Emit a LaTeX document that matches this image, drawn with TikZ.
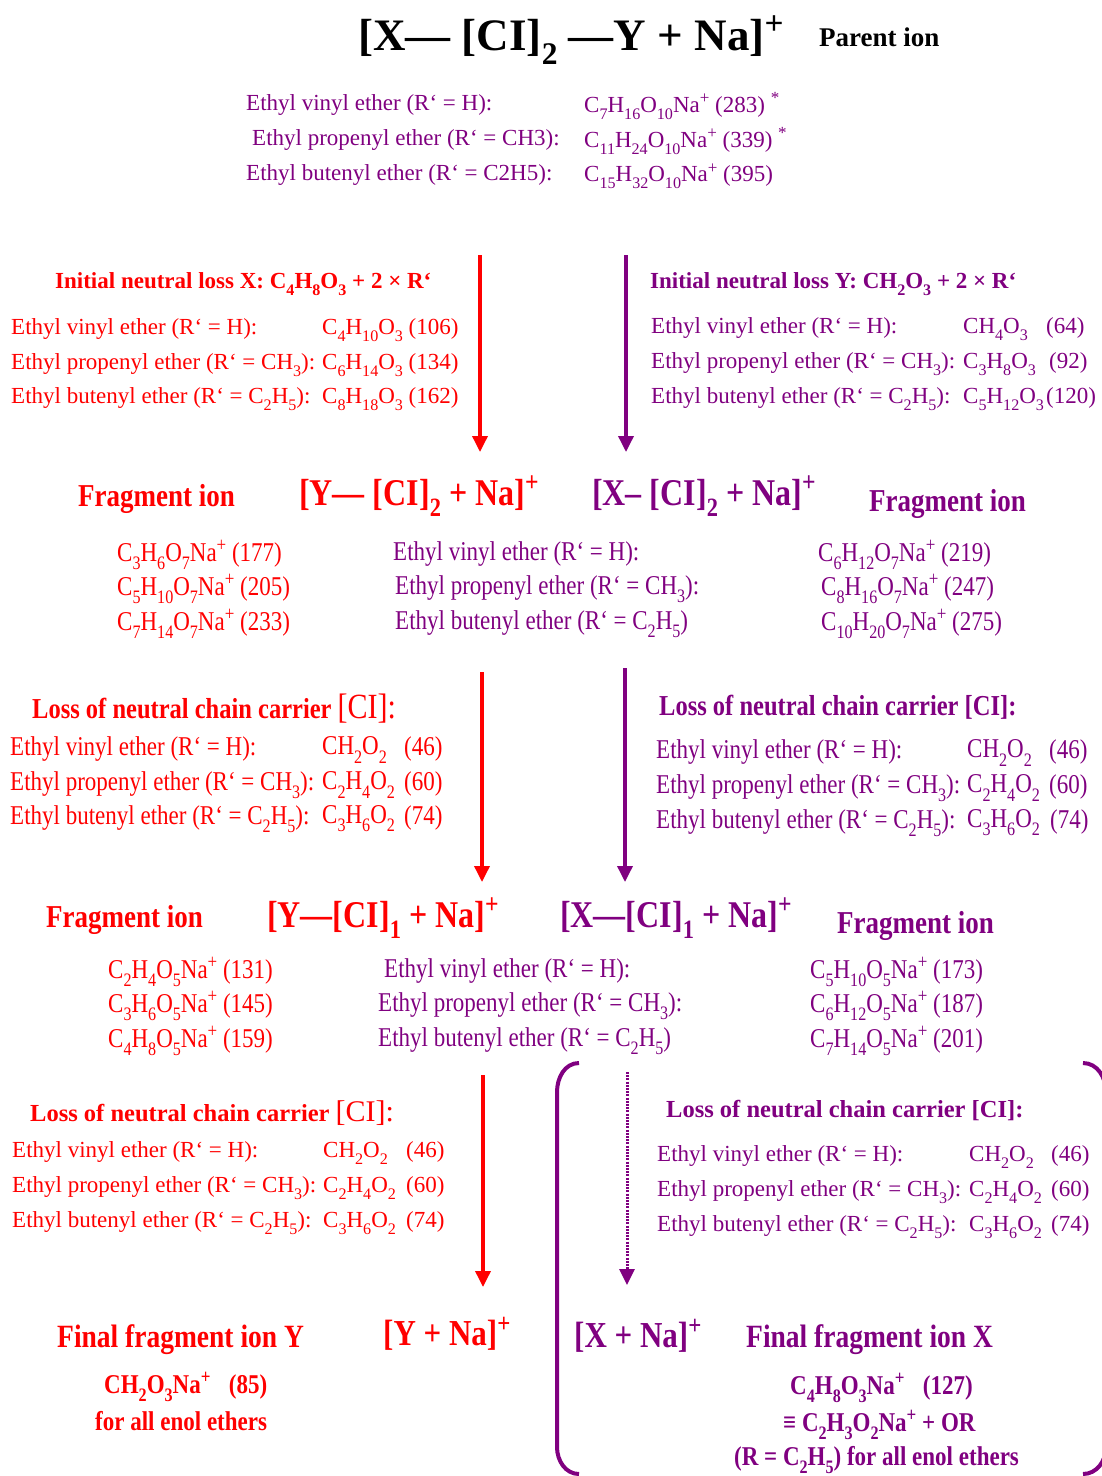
\documentclass[tikz,border=0pt]{standalone}
\usepackage{fontspec}
\setmainfont{Liberation Serif}
\usetikzlibrary{arrows.meta}
\definecolor{cred}{RGB}{255,0,0}
\definecolor{cpur}{RGB}{128,0,128}
\newcommand{\chs}[1]{\raisebox{-0.3em}{\scalebox{0.7}{#1}}}
\newcommand{\chp}[1]{\raisebox{0.36em}{\scalebox{0.74}{#1}}}
\newcommand{\tallt}[1]{\scalebox{1}[1.18]{#1}}
\newcommand{\fsz}[1]{\fontsize{#1}{#1}\selectfont}
\tikzset{
  base/.style={inner sep=0pt, anchor=west, yshift=-3pt, execute at begin node=\strut},
  nb/.style={base, font=\fsz{23}},
  hb/.style={base, font=\fsz{23}\bfseries},
  lb/.style={base, font=\fsz{24.5}\bfseries},
  fb/.style={base, font=\fsz{27}\bfseries},
  ib/.style={base, font=\fsz{32}\bfseries},
  rd/.style={text=cred},
  pu/.style={text=cpur},
  redarrow/.style={draw=cred, line width=3.5pt, -{Triangle[length=16pt,width=15pt]}},
  purarrow/.style={draw=cpur, line width=3.5pt, -{Triangle[length=16pt,width=15pt]}},
  purdotted/.style={draw=cpur, line width=3pt, dash pattern=on 2pt off 1.2pt, -{Triangle[length=16pt,width=15pt]}},
}
\begin{document}
\begin{tikzpicture}[x=1pt,y=-1pt]
\useasboundingbox (0,0) rectangle (1102,1476);

% title
\node[base, font=\fsz{45}\bfseries] (title) at (358,37) {[X— [CI]\chs{2} —Y + Na]\chp{+}};
\node[fb] (parent) at (819,38) {Parent ion};

% top list
\node[nb,pu] (t1a) at (246,103) {Ethyl vinyl ether (R‘ = H):};
\node[nb,pu] (t2a) at (252,138) {Ethyl propenyl ether (R‘ = CH3):};
\node[nb,pu] (t3a) at (246,173) {Ethyl butenyl ether (R‘ = C2H5):};
\node[nb,pu] (t1b) at (584,103) {C\chs{7}H\chs{16}O\chs{10}Na\chp{+} (283) \chp{*}};
\node[nb,pu] (t2b) at (584,138) {C\chs{11}H\chs{24}O\chs{10}Na\chp{+} (339) \chp{*}};
\node[nb,pu] (t3b) at (584,173) {C\chs{15}H\chs{32}O\chs{10}Na\chp{+} (395)};

% section 1 left
\node[hb,rd] (s1lh) at (55,281) {Initial neutral loss X: C\chs{4}H\chs{8}O\chs{3} + 2 × R‘};
\node[nb,rd] (s1l1) at (11,327) {Ethyl vinyl ether (R‘ = H):};
\node[nb,rd] (s1l2) at (11,362) {Ethyl propenyl ether (R‘ = CH\chs{3}):};
\node[nb,rd] (s1l3) at (11,396) {Ethyl butenyl ether (R‘ = C\chs{2}H\chs{5}):};
\node[nb,rd] (s1l1f) at (322,327) {C\chs{4}H\chs{10}O\chs{3} (106)};
\node[nb,rd] (s1l2f) at (322,362) {C\chs{6}H\chs{14}O\chs{3} (134)};
\node[nb,rd] (s1l3f) at (322,396) {C\chs{8}H\chs{18}O\chs{3} (162)};

% section 1 right
\node[hb,pu] (s1rh) at (650,281) {Initial neutral loss Y: CH\chs{2}O\chs{3} + 2 × R‘};
\node[nb,pu] (s1r1) at (651,326) {Ethyl vinyl ether (R‘ = H):};
\node[nb,pu] (s1r2) at (651,361) {Ethyl propenyl ether (R‘ = CH\chs{3}):};
\node[nb,pu] (s1r3) at (651,396) {Ethyl butenyl ether (R‘ = C\chs{2}H\chs{5}):};
\node[nb,pu] (s1r1f) at (963,326) {CH\chs{4}O\chs{3}};
\node[nb,pu] (s1r2f) at (963,361) {C\chs{3}H\chs{8}O\chs{3}};
\node[nb,pu] (s1r3f) at (963,396) {C\chs{5}H\chs{12}O\chs{3}};
\node[nb,pu] (s1r1n) at (1046,326) {(64)};
\node[nb,pu] (s1r2n) at (1049,361) {(92)};
\node[nb,pu] (s1r3n) at (1046,396) {(120)};

% row 2
\node[fb,rd] (f2l) at (78,496) {\tallt{Fragment ion}};
\node[ib,rd] (i2l) at (299,493) {\tallt{[Y— [CI]\chs{2} + Na]\chp{+}}};
\node[ib,pu] (i2r) at (592,493) {\tallt{[X– [CI]\chs{2} + Na]\chp{+}}};
\node[fb,pu] (f2r) at (869,501) {\tallt{Fragment ion}};
\node[nb,rd] (r2a) at (117,552) {\tallt{C\chs{3}H\chs{6}O\chs{7}Na\chp{+} (177)}};
\node[nb,rd] (r2b) at (117,586) {\tallt{C\chs{5}H\chs{10}O\chs{7}Na\chp{+} (205)}};
\node[nb,rd] (r2c) at (117,621) {\tallt{C\chs{7}H\chs{14}O\chs{7}Na\chp{+} (233)}};
\node[nb,pu] (m2a) at (393,552) {\tallt{Ethyl vinyl ether (R‘ = H):}};
\node[nb,pu] (m2b) at (395,586) {\tallt{Ethyl propenyl ether (R‘ = CH\chs{3}):}};
\node[nb,pu] (m2c) at (395,621) {\tallt{Ethyl butenyl ether (R‘ = C\chs{2}H\chs{5})}};
\node[nb,pu] (p2a) at (818,552) {\tallt{C\chs{6}H\chs{12}O\chs{7}Na\chp{+} (219)}};
\node[nb,pu] (p2b) at (821,586) {\tallt{C\chs{8}H\chs{16}O\chs{7}Na\chp{+} (247)}};
\node[nb,pu] (p2c) at (821,621) {\tallt{C\chs{10}H\chs{20}O\chs{7}Na\chp{+} (275)}};

% section 3 left
\node[lb,rd] (s3lh) at (32,707) {\tallt{Loss of neutral chain carrier {\fsz{30}\mdseries [CI]:}}};
\node[nb,rd] (s3l1) at (10,747) {\tallt{Ethyl vinyl ether (R‘ = H):}};
\node[nb,rd] (s3l2) at (10,782) {\tallt{Ethyl propenyl ether (R‘ = CH\chs{3}):}};
\node[nb,rd] (s3l3) at (10,816) {\tallt{Ethyl butenyl ether (R‘ = C\chs{2}H\chs{5}):}};
\node[nb,rd] (s3l1f) at (322,747) {\tallt{CH\chs{2}O\chs{2}}};
\node[nb,rd] (s3l2f) at (322,782) {\tallt{C\chs{2}H\chs{4}O\chs{2}}};
\node[nb,rd] (s3l3f) at (322,816) {\tallt{C\chs{3}H\chs{6}O\chs{2}}};
\node[nb,rd] (s3l1n) at (404,747) {\tallt{(46)}};
\node[nb,rd] (s3l2n) at (404,782) {\tallt{(60)}};
\node[nb,rd] (s3l3n) at (404,816) {\tallt{(74)}};

% section 3 right
\node[lb,pu] (s3rh) at (659,706) {\tallt{Loss of neutral chain carrier [CI]:}};
\node[nb,pu] (s3r1) at (656,750) {\tallt{Ethyl vinyl ether (R‘ = H):}};
\node[nb,pu] (s3r2) at (656,785) {\tallt{Ethyl propenyl ether (R‘ = CH\chs{3}):}};
\node[nb,pu] (s3r3) at (656,820) {\tallt{Ethyl butenyl ether (R‘ = C\chs{2}H\chs{5}):}};
\node[nb,pu] (s3r1f) at (967,750) {\tallt{CH\chs{2}O\chs{2}}};
\node[nb,pu] (s3r2f) at (967,785) {\tallt{C\chs{2}H\chs{4}O\chs{2}}};
\node[nb,pu] (s3r3f) at (967,820) {\tallt{C\chs{3}H\chs{6}O\chs{2}}};
\node[nb,pu] (s3r1n) at (1049,750) {\tallt{(46)}};
\node[nb,pu] (s3r2n) at (1049,785) {\tallt{(60)}};
\node[nb,pu] (s3r3n) at (1050,820) {\tallt{(74)}};

% row 4
\node[fb,rd] (f4l) at (46,917) {\tallt{Fragment ion}};
\node[ib,rd] (i4l) at (267,915) {\tallt{[Y—[CI]\chs{1} + Na]\chp{+}}};
\node[ib,pu] (i4r) at (560,915) {\tallt{[X—[CI]\chs{1} + Na]\chp{+}}};
\node[fb,pu] (f4r) at (837,923) {\tallt{Fragment ion}};
\node[nb,rd] (r4a) at (108,969) {\tallt{C\chs{2}H\chs{4}O\chs{5}Na\chp{+} (131)}};
\node[nb,rd] (r4b) at (108,1003) {\tallt{C\chs{3}H\chs{6}O\chs{5}Na\chp{+} (145)}};
\node[nb,rd] (r4c) at (108,1038) {\tallt{C\chs{4}H\chs{8}O\chs{5}Na\chp{+} (159)}};
\node[nb,pu] (m4a) at (384,969) {\tallt{Ethyl vinyl ether (R‘ = H):}};
\node[nb,pu] (m4b) at (378,1003) {\tallt{Ethyl propenyl ether (R‘ = CH\chs{3}):}};
\node[nb,pu] (m4c) at (378,1038) {\tallt{Ethyl butenyl ether (R‘ = C\chs{2}H\chs{5})}};
\node[nb,pu] (p4a) at (810,969) {\tallt{C\chs{5}H\chs{10}O\chs{5}Na\chp{+} (173)}};
\node[nb,pu] (p4b) at (810,1003) {\tallt{C\chs{6}H\chs{12}O\chs{5}Na\chp{+} (187)}};
\node[nb,pu] (p4c) at (810,1038) {\tallt{C\chs{7}H\chs{14}O\chs{5}Na\chp{+} (201)}};

% section 5 left
\node[lb,rd] (s5lh) at (30,1112) {Loss of neutral chain carrier {\fsz{30}\mdseries [CI]:}};
\node[nb,rd] (s5l1) at (12,1150) {Ethyl vinyl ether (R‘ = H):};
\node[nb,rd] (s5l2) at (12,1185) {Ethyl propenyl ether (R‘ = CH\chs{3}):};
\node[nb,rd] (s5l3) at (12,1220) {Ethyl butenyl ether (R‘ = C\chs{2}H\chs{5}):};
\node[nb,rd] (s5l1f) at (323,1150) {CH\chs{2}O\chs{2}};
\node[nb,rd] (s5l2f) at (323,1185) {C\chs{2}H\chs{4}O\chs{2}};
\node[nb,rd] (s5l3f) at (323,1220) {C\chs{3}H\chs{6}O\chs{2}};
\node[nb,rd] (s5l1n) at (406,1150) {(46)};
\node[nb,rd] (s5l2n) at (406,1185) {(60)};
\node[nb,rd] (s5l3n) at (406,1220) {(74)};

% section 5 right
\node[lb,pu] (s5rh) at (666,1110) {Loss of neutral chain carrier [CI]:};
\node[nb,pu] (s5r1) at (657,1154) {Ethyl vinyl ether (R‘ = H):};
\node[nb,pu] (s5r2) at (657,1189) {Ethyl propenyl ether (R‘ = CH\chs{3}):};
\node[nb,pu] (s5r3) at (657,1224) {Ethyl butenyl ether (R‘ = C\chs{2}H\chs{5}):};
\node[nb,pu] (s5r1f) at (969,1154) {CH\chs{2}O\chs{2}};
\node[nb,pu] (s5r2f) at (969,1189) {C\chs{2}H\chs{4}O\chs{2}};
\node[nb,pu] (s5r3f) at (969,1224) {C\chs{3}H\chs{6}O\chs{2}};
\node[nb,pu] (s5r1n) at (1051,1154) {(46)};
\node[nb,pu] (s5r2n) at (1051,1189) {(60)};
\node[nb,pu] (s5r3n) at (1051,1224) {(74)};

% final row
\node[base,rd,font=\fsz{27.5}\bfseries] (fyl) at (57,1337) {\tallt{Final fragment ion Y}};
\node[base,rd,font=\fsz{31}\bfseries] (fyi) at (383,1333) {\tallt{[Y + Na]\chp{+}}};
\node[base,pu,font=\fsz{31}\bfseries] (fxi) at (574,1335) {\tallt{[X + Na]\chp{+}}};
\node[base,pu,font=\fsz{27.5}\bfseries] (fxl) at (746,1337) {\tallt{Final fragment ion X}};
\node[hb,rd] (fy1) at (104,1384) {\tallt{CH\chs{2}O\chs{3}Na\chp{+}\hspace{0.8em}(85)}};
\node[hb,rd] (fy2) at (95,1421) {\tallt{for all enol ethers}};
\node[hb,pu] (fx1) at (790,1385) {\tallt{C\chs{4}H\chs{8}O\chs{3}Na\chp{+}\hspace{0.8em}(127)}};
\node[hb,pu] (fx2) at (783,1422) {\tallt{≡ C\chs{2}H\chs{3}O\chs{2}Na\chp{+} + OR}};
\node[hb,pu] (fx3) at (734,1457) {\tallt{(R = C\chs{2}H\chs{5}) for all enol ethers}};

% arrows
\coordinate (a1s) at (480,255); \coordinate (a1e) at (480,452);
\coordinate (b1s) at (626,255); \coordinate (b1e) at (626,452);
\coordinate (a2s) at (482,672); \coordinate (a2e) at (482,882);
\coordinate (b2s) at (625,668); \coordinate (b2e) at (625,882);
\coordinate (a3s) at (483,1075); \coordinate (a3e) at (483,1287);
\coordinate (b3s) at (627,1072); \coordinate (b3e) at (627,1285);
\draw[redarrow] (a1s) -- (a1e);
\draw[purarrow] (b1s) -- (b1e);
\draw[redarrow] (a2s) -- (a2e);
\draw[purarrow] (b2s) -- (b2e);
\draw[redarrow] (a3s) -- (a3e);
\draw[purdotted] (b3s) -- (b3e);

% bracket
\begin{scope}
\clip (0,0) rectangle (1102,1476);
\draw[cpur, line width=4pt] (579,1063) to[out=180,in=90] (557,1092) -- (557,1447) to[out=-90,in=180] (579,1474);
\draw[cpur, line width=4pt] (1083,1063) to[out=0,in=90] (1106,1092) -- (1106,1447) to[out=-90,in=0] (1083,1474);
\end{scope}
\end{tikzpicture}
\end{document}
